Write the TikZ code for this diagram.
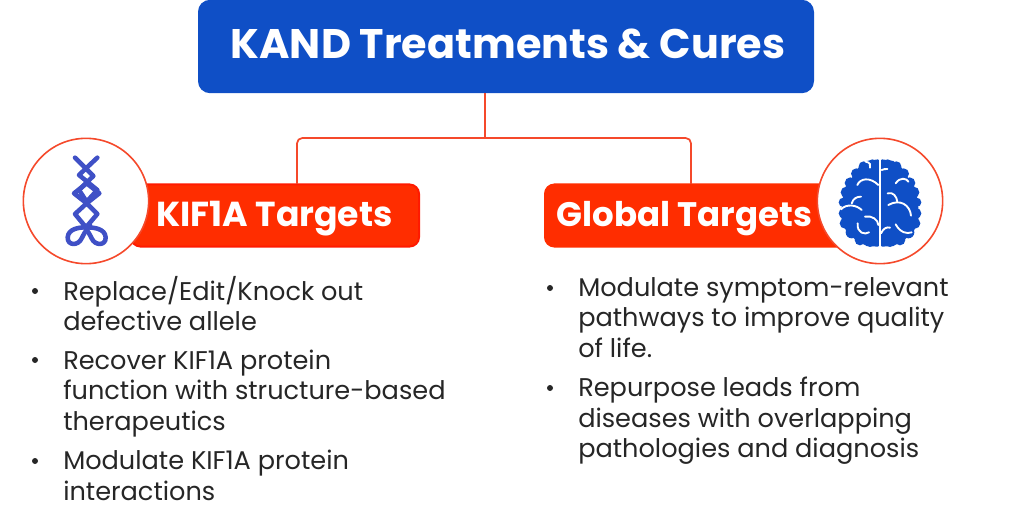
\documentclass[tikz,border=0pt]{standalone}
\usepackage{fontspec}
\setmainfont{Poppins}
\definecolor{titleblue}{HTML}{0F4FC6}
\definecolor{tagred}{HTML}{FF2D00}
\definecolor{tagedge}{HTML}{FF1A00}
\definecolor{linered}{HTML}{F5492B}
\definecolor{dnablue}{HTML}{3F50C6}
\definecolor{bodyink}{HTML}{262626}
\tikzset{
  x=0.75pt,y=-0.75pt,
  titlebox/.style={fill=titleblue,rounded corners=9pt,inner sep=0pt},
  tagbox/.style={fill=tagred,draw=tagedge,line width=1.5pt,rounded corners=7pt,inner sep=0pt},
  badge/.style={circle,fill=white,draw=linered,line width=1.2pt,minimum size=94pt,inner sep=0pt},
  headtext/.style={text=white,font=\fontsize{31}{34}\selectfont\bfseries,inner sep=0pt},
  tagtext/.style={text=white,font=\fontsize{26}{30}\selectfont\bfseries,inner sep=0pt},
  tagtextb/.style={text=white,font=\fontsize{25.5}{30}\selectfont\bfseries,inner sep=0pt},
  bodytext/.style={text=bodyink,font=\fontsize{19.2}{22.8}\selectfont,align=left,anchor=north west,inner sep=0pt},
  dot/.style={circle,fill=bodyink,minimum size=4.5pt,inner sep=0pt},
  link/.style={draw=linered,line width=1.3pt,rounded corners=4pt},
  helix/.style={draw=dnablue,line width=3.4pt,line join=round,line cap=round},
  vein/.style={draw=white,line width=1.4pt,line cap=round},
}
\begin{document}
\begin{tikzpicture}
\useasboundingbox (0,0) rectangle (1024,524);
% title
\node[titlebox,minimum width=462pt,minimum height=70pt] (title) at (506,46.5) {};
\node[headtext] (titletxt) at (508,44) {KAND Treatments \& Cures};
% tags
\node[tagbox,minimum width=216pt,minimum height=46.5pt] (kif) at (275,215.5) {};
\node[tagbox,minimum width=228pt,minimum height=46.5pt,draw=tagred] (glob) at (697,215.5) {};
% connectors
\coordinate (tapT) at (485,93);
\coordinate (tapJ) at (485,138);
\coordinate (kifT) at (297,184);
\coordinate (globT) at (691,184);
\draw[link] (tapT) -- (tapJ);
\draw[link] (kifT) -- (297,138) -- (691,138) -- (globT);
% badges
\node[badge] (leftbadge) at (86,201) {};
\node[badge] (rightbadge) at (880,201) {};
\node[tagtext] (kiftxt) at (274.5,219) {KIF1A Targets};
\node[tagtextb] (globtxt) at (684.5,219) {Global Targets};
% DNA icon
\begin{scope}[shift={(40,140)},x=0.25pt,y=-0.25pt]
\draw[helix] (105,53) -- (160,108) -- (117,150) -- (140,185) -- (172,150)
   -- (117,105) -- (172,53);
\draw[helix] (140,130) -- (178,160) -- (140,190) -- (105,222) -- (138,262) -- (172,222) -- (140,190) -- (102,160) -- (140,130);
\draw[helix] (138,262) .. controls (120,262) and (85,265) .. (83,292) .. controls (82,318) and (115,318) .. (125,295) .. controls (130,285) and (135,275) .. (150,255);
\draw[helix] (138,262) .. controls (160,262) and (195,265) .. (197,292) .. controls (198,318) and (165,318) .. (155,295) .. controls (150,285) and (145,275) .. (130,255);
\end{scope}
% Brain icon
\begin{scope}[shift={(825,145)},x=0.25pt,y=-0.25pt]
\foreach \s/\o in {1/0,-1/330}{
\begin{scope}[shift={(\o,0)},xscale=\s]
\fill[titleblue] (160,43) -- (125,48) -- (100,68) -- (80,100) -- (62,125) -- (52,165) -- (48,215) -- (62,255) -- (92,285) -- (125,303) -- (160,305) -- cycle;
\foreach \cx/\cy/\r in {142/58/15,116/64/15,94/86/16,76/114/17,64/142/17,55/172/14,57/205/16,60/235/16,80/262/18,105/285/16,135/290/16}
  \fill[titleblue] (\cx,\cy) circle[radius=\r];
\end{scope}}
\fill[titleblue] (158,45) rectangle (172,303);
\draw[vein] (165,42) -- (165,306);
% left veins
\draw[vein] (122,50) .. controls (135,52) and (138,60) .. (135,68);
\draw[vein] (97,120) .. controls (105,100) and (135,95) .. (160,120);
\draw[vein] (80,175) .. controls (85,160) and (95,155) .. (108,155);
\draw[vein] (48,193) .. controls (65,175) and (95,180) .. (110,195);
\draw[vein] (120,215) .. controls (140,210) and (160,225) .. (160,240);
\draw[vein] (98,235) .. controls (95,265) and (120,270) .. (132,262);
% right veins
\draw[vein] (170,75) .. controls (175,72) and (182,72) .. (187,72);
\draw[vein] (212,115) .. controls (225,95) and (245,100) .. (250,110);
\draw[vein] (188,145) .. controls (205,140) and (215,155) .. (217,170);
\draw[vein] (190,180) .. controls (225,160) and (255,180) .. (258,212);
\draw[vein] (168,265) .. controls (175,250) and (185,245) .. (195,248);
\draw[vein] (212,238) .. controls (225,262) and (245,268) .. (260,262);
\end{scope}
% left list
\node[dot] (b1) at (35,291) {};
\node[bodytext] (t1) at (63,276) {Replace/Edit/Knock out\\defective allele};
\node[dot] (b2) at (35,360) {};
\node[bodytext] (t2) at (63,349.5) {Recover KIF1A protein\\function with structure-based\\therapeutics};
\node[dot] (b3) at (35,461) {};
\node[bodytext] (t3) at (63,450) {Modulate KIF1A protein\\interactions};
% right list
\node[dot] (b4) at (550,288) {};
\node[bodytext] (t4) at (578,277) {Modulate symptom-relevant\\pathways to improve quality\\of life.};
\node[dot] (b5) at (550,388) {};
\node[bodytext] (t5) at (578,377) {Repurpose leads from\\diseases with overlapping\\pathologies and diagnosis};
\end{tikzpicture}
\end{document}
